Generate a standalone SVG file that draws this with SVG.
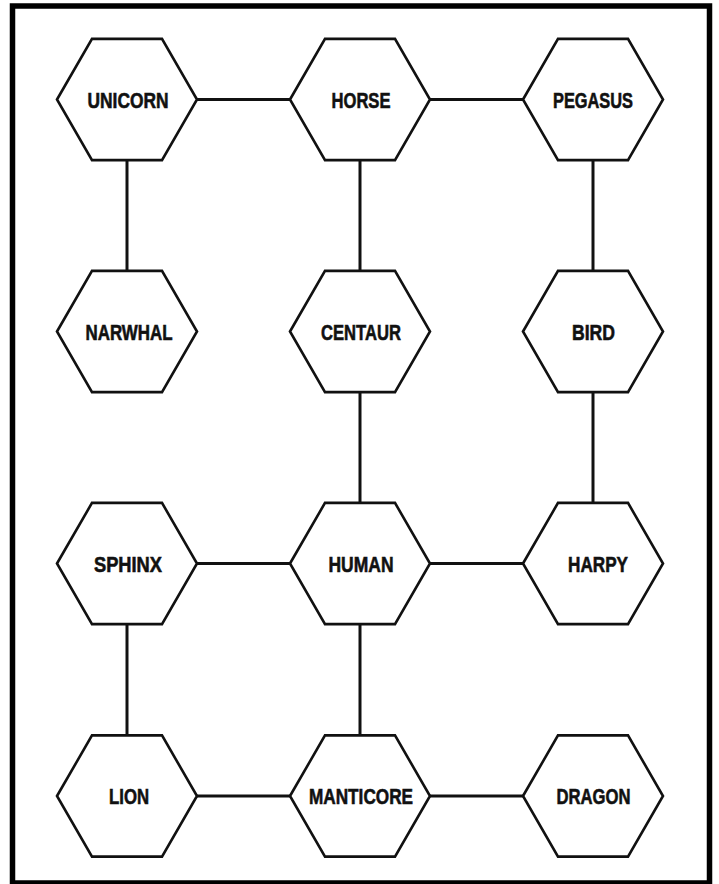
<svg xmlns="http://www.w3.org/2000/svg" xmlns:xlink="http://www.w3.org/1999/xlink" width="719" height="884" viewBox="0 0 719 884">
<style>
.hex{fill:#fff;stroke:#111;stroke-width:2.6;stroke-linejoin:miter}
.lbl{font-family:"Liberation Sans","Arial",sans-serif;font-weight:bold;font-size:22px;fill:#111;stroke:#111;stroke-width:0.6;text-anchor:middle}
.conn line{stroke:#111;stroke-width:3}
</style>
<defs>
<polygon id="hexshape" points="-70,0 -35,-60.6 35,-60.6 70,0 35,60.6 -35,60.6"/>
</defs>
<rect x="0" y="0" width="719" height="884" fill="#fff"/>
<rect x="12.5" y="6" width="697" height="877" fill="none" stroke="#000" stroke-width="5.5"/>
<g id="connectors" class="conn">
<line x1="197" y1="99.5" x2="290" y2="99.5"/>
<line x1="430" y1="99.5" x2="523" y2="99.5"/>
<line x1="127" y1="160" x2="127" y2="271"/>
<line x1="360" y1="160" x2="360" y2="271"/>
<line x1="593" y1="160" x2="593" y2="271"/>
<line x1="360" y1="392" x2="360" y2="503"/>
<line x1="593" y1="392" x2="593" y2="503"/>
<line x1="197" y1="563.5" x2="290" y2="563.5"/>
<line x1="430" y1="563.5" x2="523" y2="563.5"/>
<line x1="127" y1="624" x2="127" y2="735.5"/>
<line x1="360" y1="624" x2="360" y2="735.5"/>
<line x1="197" y1="796" x2="290" y2="796"/>
<line x1="430" y1="796" x2="523" y2="796"/>
</g>
<g id="unicorn"><use xlink:href="#hexshape" class="hex" x="127" y="99.5"/><text class="lbl" x="128" y="107.5" textLength="81" lengthAdjust="spacingAndGlyphs">UNICORN</text></g>
<g id="horse"><use xlink:href="#hexshape" class="hex" x="360" y="99.5"/><text class="lbl" x="361" y="108" textLength="59" lengthAdjust="spacingAndGlyphs">HORSE</text></g>
<g id="pegasus"><use xlink:href="#hexshape" class="hex" x="593" y="99.5"/><text class="lbl" x="593" y="107.5" textLength="80" lengthAdjust="spacingAndGlyphs">PEGASUS</text></g>
<g id="narwhal"><use xlink:href="#hexshape" class="hex" x="127" y="331.5"/><text class="lbl" x="129" y="339.5" textLength="87" lengthAdjust="spacingAndGlyphs">NARWHAL</text></g>
<g id="centaur"><use xlink:href="#hexshape" class="hex" x="360" y="331.5"/><text class="lbl" x="361" y="339.5" textLength="80" lengthAdjust="spacingAndGlyphs">CENTAUR</text></g>
<g id="bird"><use xlink:href="#hexshape" class="hex" x="593" y="331.5"/><text class="lbl" x="593.5" y="339.5" textLength="43" lengthAdjust="spacingAndGlyphs">BIRD</text></g>
<g id="sphinx"><use xlink:href="#hexshape" class="hex" x="127" y="563.5"/><text class="lbl" x="128" y="571.5" textLength="68" lengthAdjust="spacingAndGlyphs">SPHINX</text></g>
<g id="human"><use xlink:href="#hexshape" class="hex" x="360" y="563.5"/><text class="lbl" x="361" y="571.5" textLength="65" lengthAdjust="spacingAndGlyphs">HUMAN</text></g>
<g id="harpy"><use xlink:href="#hexshape" class="hex" x="593" y="563.5"/><text class="lbl" x="598" y="572" textLength="60" lengthAdjust="spacingAndGlyphs">HARPY</text></g>
<g id="lion"><use xlink:href="#hexshape" class="hex" x="127" y="796"/><text class="lbl" x="129" y="804" textLength="40" lengthAdjust="spacingAndGlyphs">LION</text></g>
<g id="manticore"><use xlink:href="#hexshape" class="hex" x="360" y="796"/><text class="lbl" x="361" y="804" textLength="104" lengthAdjust="spacingAndGlyphs">MANTICORE</text></g>
<g id="dragon"><use xlink:href="#hexshape" class="hex" x="593" y="796"/><text class="lbl" x="593.5" y="804" textLength="74" lengthAdjust="spacingAndGlyphs">DRAGON</text></g>
</svg>
